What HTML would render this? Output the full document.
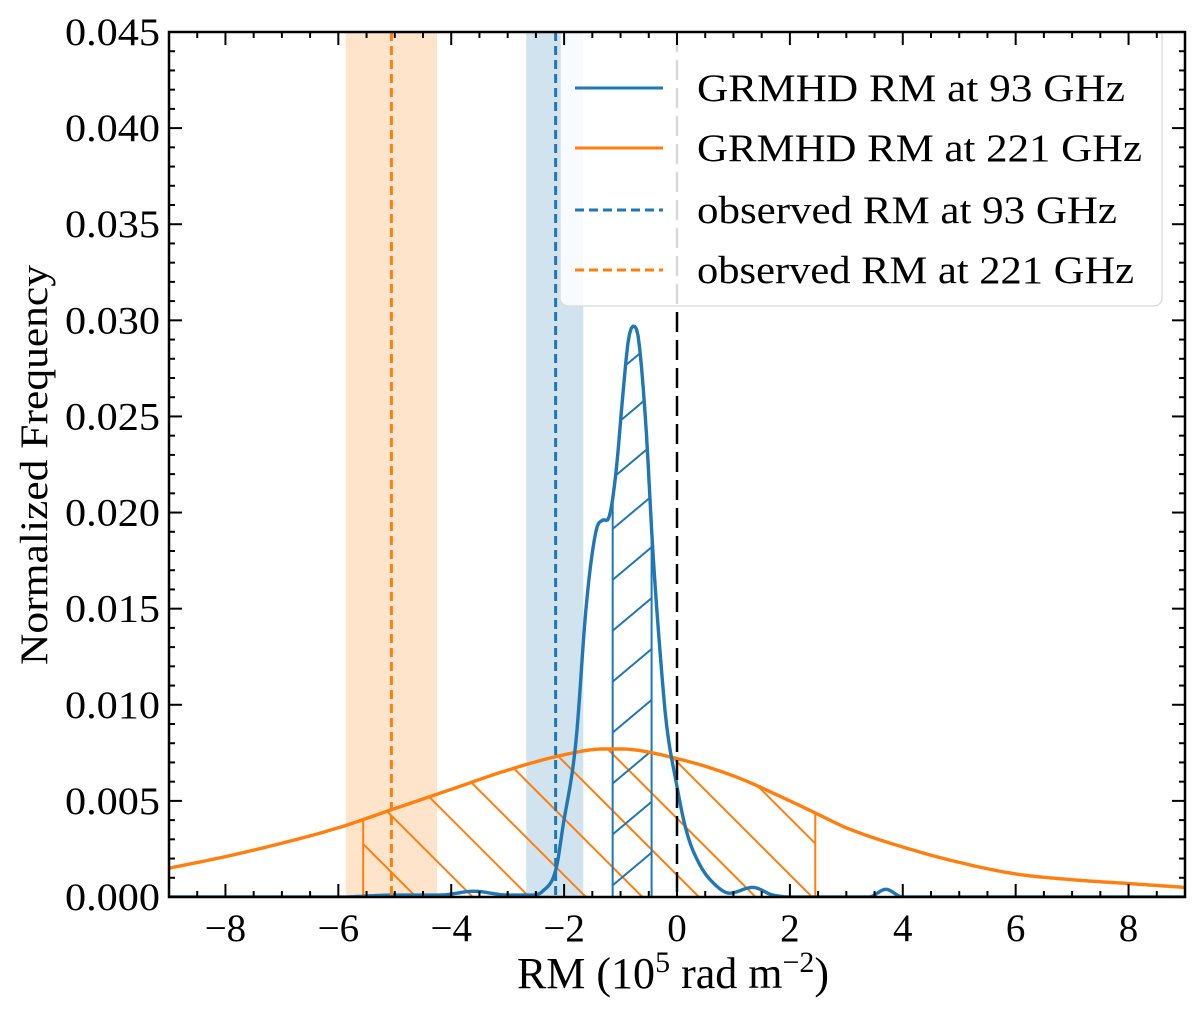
<!DOCTYPE html>
<html><head><meta charset="utf-8">
<style>
body{margin:0;background:#fff;}
svg text{font-family:"Liberation Serif","DejaVu Serif",serif;fill:#000;}
</style></head>
<body>
<svg id="chart" xmlns="http://www.w3.org/2000/svg" width="1200" height="1019" viewBox="0 0 1200 1019">
<defs>
  <clipPath id="plotClip"><rect x="169" y="32" width="1016" height="865"/></clipPath>
  <clipPath id="orangeClip"><path id="orangeClipPath" d=""/></clipPath>
  <clipPath id="blueClip"><path id="blueClipPath" d=""/></clipPath>
  <pattern id="hatchOrange" patternUnits="userSpaceOnUse" width="40" height="40" patternTransform="rotate(-45)">
    <line x1="20" y1="0" x2="20" y2="40" stroke="#ff7f0e" stroke-width="2"/>
  </pattern>
  <pattern id="hatchBlue" patternUnits="userSpaceOnUse" width="39" height="39" patternTransform="rotate(50)">
    <line x1="19" y1="0" x2="19" y2="39" stroke="#1f77b4" stroke-width="2"/>
  </pattern>
</defs>
<g id="plot" clip-path="url(#plotClip)"></g>
<g id="axes"></g>
</svg>
<script>
const xDomain=[-9,9], yDomain=[0,0.045];
const xTicks=[-8,-6,-4,-2,0,2,4,6,8];
const xTickLabels=["\u22128","\u22126","\u22124","\u22122","0","2","4","6","8"];
const yTicks=[0,0.005,0.010,0.015,0.020,0.025,0.030,0.035,0.040,0.045];
const yTickLabels=["0.000","0.005","0.010","0.015","0.020","0.025","0.030","0.035","0.040","0.045"];
const orangeX=[-9,-8,-7,-6,-5,-4,-3,-2,-1.3,-1,0,1,2,2.5,3,4,5,6,7,8,9];
const orangeY=[0.0015,0.0021,0.0028,0.0036,0.0046,0.0056,0.0066,0.0074,0.0077,0.0077,0.0072,0.0063,0.0050,0.0043,0.0036,0.0026,0.0018,0.0012,0.0009,0.0007,0.0005];
const blueX=[-9,-6,-5,-4.2,-3.6,-3,-2.6,-2.38,-2.14,-2.03,-1.79,-1.61,-1.43,-1.32,-1.2,-1.08,-0.96,-0.86,-0.77,-0.68,-0.55,-0.43,-0.31,-0.19,-0.01,0.16,0.4,0.69,0.93,1.34,1.7,2.5,3.4,3.7,4.0,6,9];
const blueY=[0,0,0.0001,0.0001,0.0003,0.0001,0.0001,0.0003,0.0015,0.0035,0.0081,0.0151,0.0191,0.0196,0.0198,0.0221,0.0261,0.0290,0.0297,0.0290,0.0245,0.0181,0.0131,0.0091,0.0059,0.0035,0.0017,0.0006,0.0002,0.0005,0.0001,0,0,0.0004,0,0,0];
const orangeHatchRange=[-5.56,2.45];
const blueHatchRange=[-1.14,-0.45];
const obs93=-2.15, obs93Band=[-2.67,-1.66];
const obs221=-5.06, obs221Band=[-5.87,-4.25];
const zeroLine=0;

const L=169,R=1185,T=32,B=897;
const sx=v=>L+(v-xDomain[0])/(xDomain[1]-xDomain[0])*(R-L);
const sy=v=>B-(v-yDomain[0])/(yDomain[1]-yDomain[0])*(B-T);
const NS="http://www.w3.org/2000/svg";
function mk(tag,attrs,parent){const e=document.createElementNS(NS,tag);for(const k in attrs)e.setAttribute(k,attrs[k]);parent.appendChild(e);return e;}
const plot=document.getElementById('plot'), axes=document.getElementById('axes');

function interp(xs,ys,x){
  let i=0;while(i<xs.length-2&&x>xs[i+1])i++;
  const n=xs.length,m=[];
  for(let k=0;k<n;k++){
    if(k===0)m.push((ys[1]-ys[0])/(xs[1]-xs[0]));
    else if(k===n-1)m.push((ys[n-1]-ys[n-2])/(xs[n-1]-xs[n-2]));
    else{const d0=(ys[k]-ys[k-1])/(xs[k]-xs[k-1]),d1=(ys[k+1]-ys[k])/(xs[k+1]-xs[k]);m.push(d0*d1<=0?0:(d0+d1)/2);}
  }
  const h=xs[i+1]-xs[i],t=(x-xs[i])/h,t2=t*t,t3=t2*t;
  return (2*t3-3*t2+1)*ys[i]+(t3-2*t2+t)*h*m[i]+(-2*t3+3*t2)*ys[i+1]+(t3-t2)*h*m[i+1];
}
function curvePts(xs,ys,a,b){const p=[];const N=600;for(let k=0;k<=N;k++){const x=a+(b-a)*k/N;p.push([sx(x),sy(Math.max(0,interp(xs,ys,x)))]);}return p;}
function areaPath(xs,ys,a,b){const p=curvePts(xs,ys,a,b);return 'M'+sx(a)+','+sy(0)+' '+p.map(q=>'L'+q[0].toFixed(1)+','+q[1].toFixed(1)).join(' ')+' L'+sx(b)+','+sy(0)+'Z';}

let e=mk('rect',{x:sx(obs221Band[0]),y:T,width:sx(obs221Band[1])-sx(obs221Band[0]),height:B-T,fill:'#ffe4cc'},plot);

e=mk('rect',{x:sx(obs93Band[0]),y:T,width:sx(obs93Band[1])-sx(obs93Band[0]),height:B-T,fill:'#d2e3f0'},plot);


document.getElementById('orangeClipPath').setAttribute('d',areaPath(orangeX,orangeY,orangeHatchRange[0],orangeHatchRange[1]));
document.getElementById('blueClipPath').setAttribute('d',areaPath(blueX,blueY,blueHatchRange[0],blueHatchRange[1]));
e=mk('rect',{x:L,y:T,width:R-L,height:B-T,fill:'url(#hatchOrange)','clip-path':'url(#orangeClip)'},plot);

e=mk('path',{d:areaPath(orangeX,orangeY,orangeHatchRange[0],orangeHatchRange[1]),fill:'none',stroke:'#ff7f0e','stroke-width':2},plot);

e=mk('rect',{x:L,y:T,width:R-L,height:B-T,fill:'url(#hatchBlue)','clip-path':'url(#blueClip)'},plot);

e=mk('path',{d:areaPath(blueX,blueY,blueHatchRange[0],blueHatchRange[1]),fill:'none',stroke:'#1f77b4','stroke-width':2},plot);


function line(xs,ys,color){const p=curvePts(xs,ys,xDomain[0],xDomain[1]);return mk('path',{d:'M'+p.map(q=>q[0].toFixed(1)+','+q[1].toFixed(1)).join(' L'),fill:'none',stroke:color,'stroke-width':3.4,'stroke-linejoin':'round'},plot);}
e=line(orangeX,orangeY,'#ff7f0e');

e=line(blueX,blueY,'#1f77b4');


e=mk('line',{x1:sx(obs221),x2:sx(obs221),y1:T,y2:B,stroke:'#ff7f0e','stroke-width':3,'stroke-dasharray':'9,5'},plot);

e=mk('line',{x1:sx(obs93),x2:sx(obs93),y1:T,y2:B,stroke:'#1f77b4','stroke-width':3,'stroke-dasharray':'9,5'},plot);

e=mk('line',{x1:sx(zeroLine),x2:sx(zeroLine),y1:T,y2:B,stroke:'#000','stroke-width':2.5,'stroke-dasharray':'20,8'},plot);


const lg=mk('g',{},plot);

mk('rect',{x:560,y:28,width:602,height:278,rx:8,fill:'rgba(255,255,255,0.85)',stroke:'#dddddd','stroke-width':1.5},lg);
const leg=[["GRMHD RM at 93 GHz",'#1f77b4','',428],["GRMHD RM at 221 GHz",'#ff7f0e','',445],["observed RM at 93 GHz",'#1f77b4','9,5',420],["observed RM at 221 GHz",'#ff7f0e','9,5',437]];
const legY=[88,148,210,270];
leg.forEach((l,i)=>{
  const g=mk('g',{},lg);
  
  const a={x1:575,x2:663,y1:legY[i],y2:legY[i],stroke:l[1],'stroke-width':3};if(l[2])a['stroke-dasharray']=l[2];
  mk('line',a,g);
  const t=mk('text',{x:697,y:legY[i]+13,'font-size':39,textLength:l[3],lengthAdjust:'spacingAndGlyphs'},g);t.textContent=l[0];
});

e=mk('rect',{x:L,y:T,width:R-L,height:B-T,fill:'none',stroke:'#000','stroke-width':2.5},axes);

for(let k=-18;k<=18;k++){const v=k*0.5;const x=sx(v);const len=(k%4===0)?13:6;
  mk('line',{x1:x,x2:x,y1:B,y2:B-len,stroke:'#000','stroke-width':2},axes);mk('line',{x1:x,x2:x,y1:T,y2:T+len,stroke:'#000','stroke-width':2},axes);}
for(let k=0;k<=45;k++){const y=sy(k*0.001);const len=k%5===0?13:6;
  mk('line',{x1:L,x2:L+len,y1:y,y2:y,stroke:'#000','stroke-width':2},axes);mk('line',{x1:R,x2:R-len,y1:y,y2:y,stroke:'#000','stroke-width':2},axes);}
xTicks.forEach((v,i)=>{const t=mk('text',{x:sx(v),y:B+44,'font-size':39,'text-anchor':'middle'},axes);t.textContent=xTickLabels[i];
  });
yTicks.forEach((v,i)=>{const t=mk('text',{x:L-9,y:sy(v)+13,'font-size':39,'text-anchor':'end',textLength:95,lengthAdjust:'spacingAndGlyphs'},axes);t.textContent=yTickLabels[i];
  });
let t=mk('text',{x:673,y:988,'font-size':44,'text-anchor':'middle'},axes);
t.innerHTML='RM (10<tspan dy="-16" font-size="30">5</tspan><tspan dy="16"> rad m</tspan><tspan dy="-16" font-size="30">\u22122</tspan><tspan dy="16">)</tspan>';

t=mk('text',{x:0,y:0,'font-size':39,'text-anchor':'middle',textLength:400,lengthAdjust:'spacingAndGlyphs',transform:'translate(47,465) rotate(-90)'},axes);t.textContent='Normalized Frequency';

</script>
</body></html>
